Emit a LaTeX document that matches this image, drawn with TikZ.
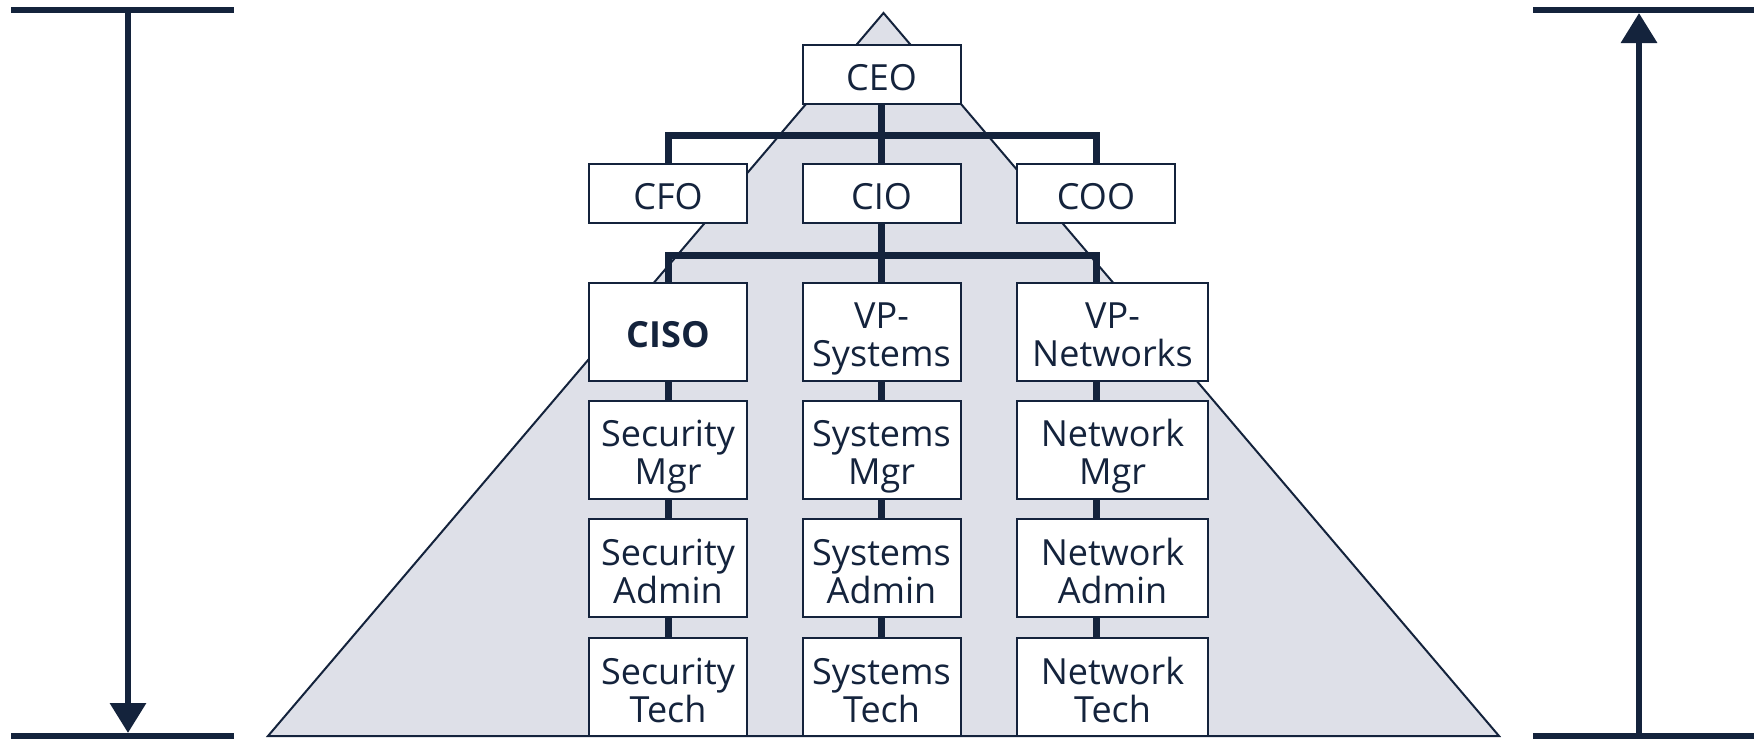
\documentclass[tikz,border=0pt]{standalone}
\usepackage{fontspec}
\setmainfont{Open Sans}
\usetikzlibrary{arrows.meta}
\definecolor{navy}{HTML}{14233C}
\definecolor{pyr}{HTML}{DEE0E8}
\begin{document}
\begin{tikzpicture}[x=0.5pt,y=-0.5pt,
  box/.style={draw=navy,line width=1pt,fill=white,text=navy,inner sep=0pt,
    align=center,font=\fontsize{18}{19}\selectfont,minimum width=79pt},
  one/.style={execute at begin node={\rule{0pt}{20.5pt}},
    execute at end node={\rule[-5pt]{0pt}{5pt}}},
  two/.style={execute at begin node={\rule{0pt}{40.4pt}},
    execute at end node={\rule[-5pt]{0pt}{5pt}}},
  small/.style={box,one,minimum height=29.5pt},
  tall/.style={box,minimum height=49pt},
  wide/.style={minimum width=95.5pt},
  conn/.style={draw=navy,line width=3.5pt,line join=miter},
  bar/.style={draw=navy,line width=3.2pt},
  tip/.style={-{Triangle[width=17.5pt,length=15pt]}}]
\useasboundingbox (0,0) rectangle (1754,739);
% pyramid
\coordinate (apex) at (883.5,13);
\coordinate (bl) at (268,736);
\coordinate (br) at (1499,736);
\fill[pyr] (apex) -- (br) -- (bl) -- cycle;
\draw[navy,line width=1pt,line join=miter] (apex) -- (br) -- (bl) -- cycle;
% brackets
\coordinate (l1) at (11,10); \coordinate (l2) at (234,10);
\coordinate (l3) at (11,736); \coordinate (l4) at (234,736);
\coordinate (la) at (128,10); \coordinate (lb) at (128,733);
\draw[bar] (l1) -- (l2);
\draw[bar] (l3) -- (l4);
\draw[bar,tip] (la) -- (lb);
\coordinate (r1) at (1533,10); \coordinate (r2) at (1754,10);
\coordinate (r3) at (1533,736); \coordinate (r4) at (1754,736);
\coordinate (ra) at (1639,736); \coordinate (rb) at (1639,13);
\draw[bar] (r1) -- (r2);
\draw[bar] (r3) -- (r4);
\draw[bar,tip] (ra) -- (rb);
% nodes
\node[small] (ceo) at (881.5,74.5) {CEO};
\node[small] (cfo) at (668,193.5) {CFO};
\node[small] (cio) at (881.5,193.5) {CIO};
\node[small] (coo) at (1096,193.5) {COO};
\node[tall,one] (ciso) at (668,331.5) {\bfseries CISO};
\node[tall,two] (vpsys) at (881.5,331.5) {VP-\\Systems};
\node[tall,two,wide] (vpnet) at (1112.5,331.5) {VP-\\Networks};
\node[tall,two] (secmgr) at (668,449.5) {Security\\Mgr};
\node[tall,two] (sysmgr) at (881.5,449.5) {Systems\\Mgr};
\node[tall,two,wide] (netmgr) at (1112.5,449.5) {Network\\Mgr};
\node[tall,two] (secadm) at (668,568) {Security\\Admin};
\node[tall,two] (sysadm) at (881.5,568) {Systems\\Admin};
\node[tall,two,wide] (netadm) at (1112.5,568) {Network\\Admin};
\node[tall,two] (sectech) at (668,687) {Security\\Tech};
\node[tall,two] (systech) at (881.5,687) {Systems\\Tech};
\node[tall,two,wide] (nettech) at (1112.5,687) {Network\\Tech};
% connectors
\coordinate (bar1) at (881.5,135);
\coordinate (bar2) at (881.5,255);
\draw[conn] (ceo.south) -- (cio.north);
\draw[conn] (cfo.north) |- (bar1) -| (coo.north);
\draw[conn] (cio.south) -- (vpsys.north);
\draw[conn] (ciso.north) |- (bar2) -| (coo.south |- vpnet.north);
\draw[conn] (ciso.south) -- (secmgr.north);
\draw[conn] (secmgr.south) -- (secadm.north);
\draw[conn] (secadm.south) -- (sectech.north);
\draw[conn] (vpsys.south) -- (sysmgr.north);
\draw[conn] (sysmgr.south) -- (sysadm.north);
\draw[conn] (sysadm.south) -- (systech.north);
\draw[conn] (coo.south |- vpnet.south) -- (coo.south |- netmgr.north);
\draw[conn] (coo.south |- netmgr.south) -- (coo.south |- netadm.north);
\draw[conn] (coo.south |- netadm.south) -- (coo.south |- nettech.north);
\end{tikzpicture}
\end{document}
